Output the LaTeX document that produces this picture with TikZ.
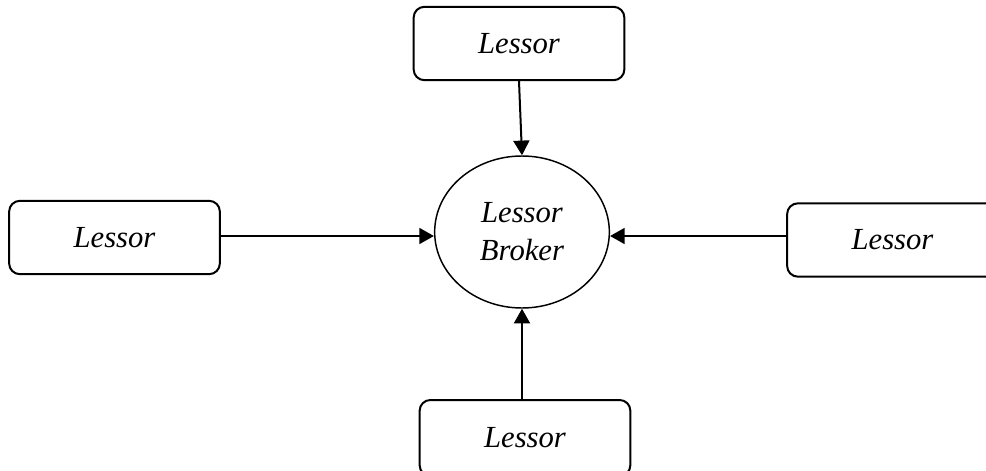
\documentclass[tikz,border=0pt]{standalone}
\usepackage{fontspec}
\setmainfont{Liberation Serif}
\usetikzlibrary{arrows.meta,shapes.geometric}
\begin{document}
\begin{tikzpicture}[x=0.75pt,y=-0.75pt,
  lbox/.style={draw,line width=1.5pt,rounded corners=8pt,minimum width=158pt,minimum height=55pt,inner sep=0pt,
    font=\fontsize{23}{28.5}\selectfont\itshape},
  hub/.style={draw,ellipse,line width=1.1pt,minimum width=131pt,minimum height=114pt,inner sep=0pt,align=center,
    font=\fontsize{23}{28.5}\selectfont\itshape},
  flow/.style={line width=1.5pt,-{Triangle[length=11pt,width=12pt]}}]
\useasboundingbox (0,0) rectangle (986,471);
\clip (0,0) rectangle (986,471);
% central broker
\node[hub] (broker) at (522,232) {Lessor\\Broker};
% four lessors around it
\node[lbox] (top) at (519,43.5) {Lessor};
\node[lbox] (left) at (114.5,237.5) {Lessor};
\node[lbox] (right) at (892.5,240) {Lessor};
\node[lbox,minimum height=57pt] (bottom) at (525,438) {Lessor};
% connectors into the broker
\draw[flow] (top.south) -- (broker.north);
\draw[flow] (left.east |- 0,236) -- (broker.west |- 0,236);
\draw[flow] (right.west |- 0,236) -- (broker.east |- 0,236);
\draw[flow] (bottom.north -| broker.south) -- (broker.south);
\end{tikzpicture}
\end{document}
